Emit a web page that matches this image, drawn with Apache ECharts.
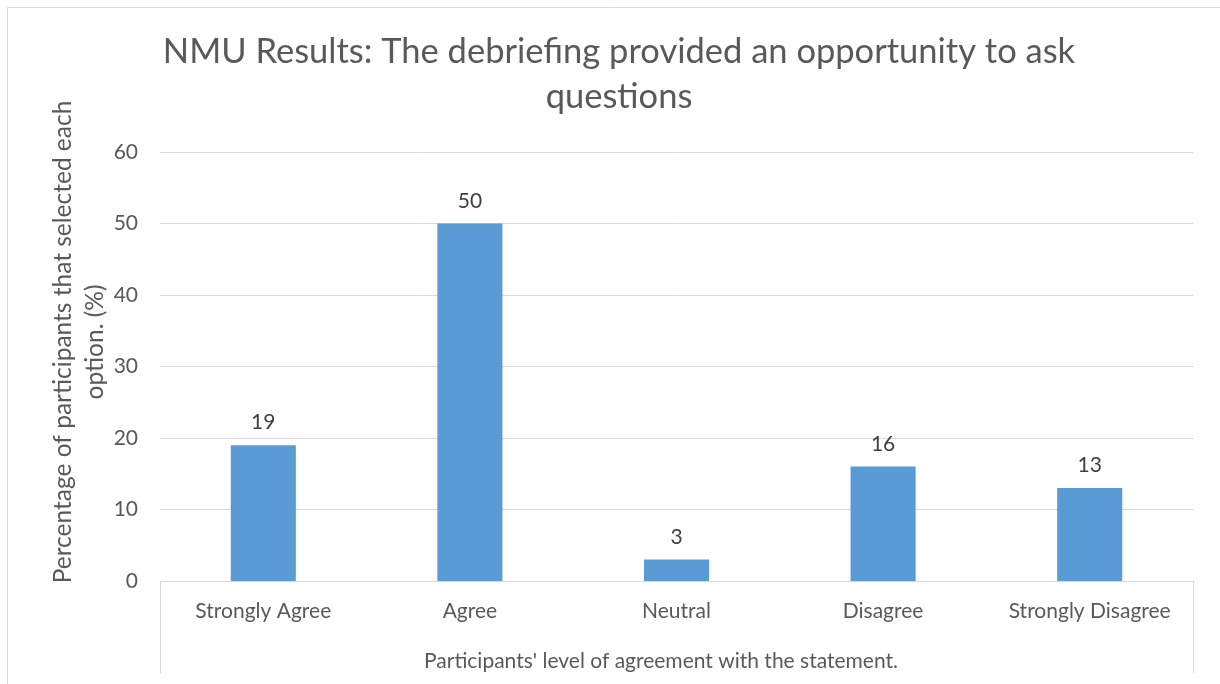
<!DOCTYPE html>
<html>
<head>
<meta charset="utf-8">
<script src="https://cdn.jsdelivr.net/npm/echarts@6/dist/echarts.min.js"></script>
<style>html,body{margin:0;padding:0;background:#fff;}#c{width:1220px;height:684px;}</style>
</head>
<body>
<div id="c"></div>
<script>
const titleText = "NMU Results: The debriefing provided an opportunity to ask\nquestions";
const categories = ["Strongly Agree", "Agree", "Neutral", "Disagree", "Strongly Disagree"];
const values = [19, 50, 3, 16, 13];
const yAxisName = "Percentage of participants that selected each\noption. (%)";
const xAxisName = "Participants' level of agreement with the statement.";
const yMin = 0, yMax = 60, yStep = 10;

const FONT = "Lato";
const TXT = "#595959";
const GRID = "#d9d9d9";

const chart = echarts.init(document.getElementById('c'), null, {renderer: 'canvas'});
chart.setOption({
  animation: false,
  backgroundColor: '#fff',
  title: {
    text: titleText,
    left: 614, top: 24, textAlign: 'center',
    textStyle: {fontFamily: FONT, fontSize: 34.5, fontWeight: 'normal', color: TXT, lineHeight: 45}
  },
  grid: {left: 160, right: 27, top: 152, bottom: 103},
  xAxis: {
    type: 'category', data: categories,
    axisLine: {lineStyle: {color: GRID, width: 1}},
    axisTick: {show: false},
    axisLabel: {interval: 0, hideOverlap: false, color: TXT, fontFamily: FONT, fontSize: 21, margin: 20}
  },
  yAxis: {
    type: 'value', min: yMin, max: yMax, interval: yStep,
    axisLine: {show: false}, axisTick: {show: false},
    splitLine: {lineStyle: {color: GRID, width: 1}},
    axisLabel: {color: TXT, fontFamily: FONT, fontSize: 21, margin: 22}
  },
  series: [{
    type: 'bar', data: values, barWidth: '31.5%',
    itemStyle: {color: '#5b9bd5'},
    label: {show: true, position: 'top', distance: 12, color: '#404040', fontFamily: FONT, fontSize: 21}
  }],
  graphic: [
    {type: 'line', shape: {x1: 7.5, y1: 7.5, x2: 1220, y2: 7.5}, style: {stroke: GRID, lineWidth: 1}},
    {type: 'line', shape: {x1: 7.5, y1: 7.5, x2: 7.5, y2: 684}, style: {stroke: GRID, lineWidth: 1}},
    {type: 'line', shape: {x1: 160.5, y1: 581, x2: 160.5, y2: 673}, style: {stroke: GRID, lineWidth: 1}},
    {type: 'line', shape: {x1: 1193.5, y1: 581, x2: 1193.5, y2: 673}, style: {stroke: GRID, lineWidth: 1}},
    {type: 'text', x: 661, y: 661, style: {text: xAxisName, fill: TXT, font: "21px " + FONT, textAlign: 'center', textVerticalAlign: 'middle'}},
    {type: 'text', x: 79, y: 342, rotation: Math.PI / 2, style: {text: yAxisName, fill: TXT, font: "24.5px " + FONT, textAlign: 'center', textVerticalAlign: 'middle', lineHeight: 32}}
  ]
});
</script>
</body>
</html>
